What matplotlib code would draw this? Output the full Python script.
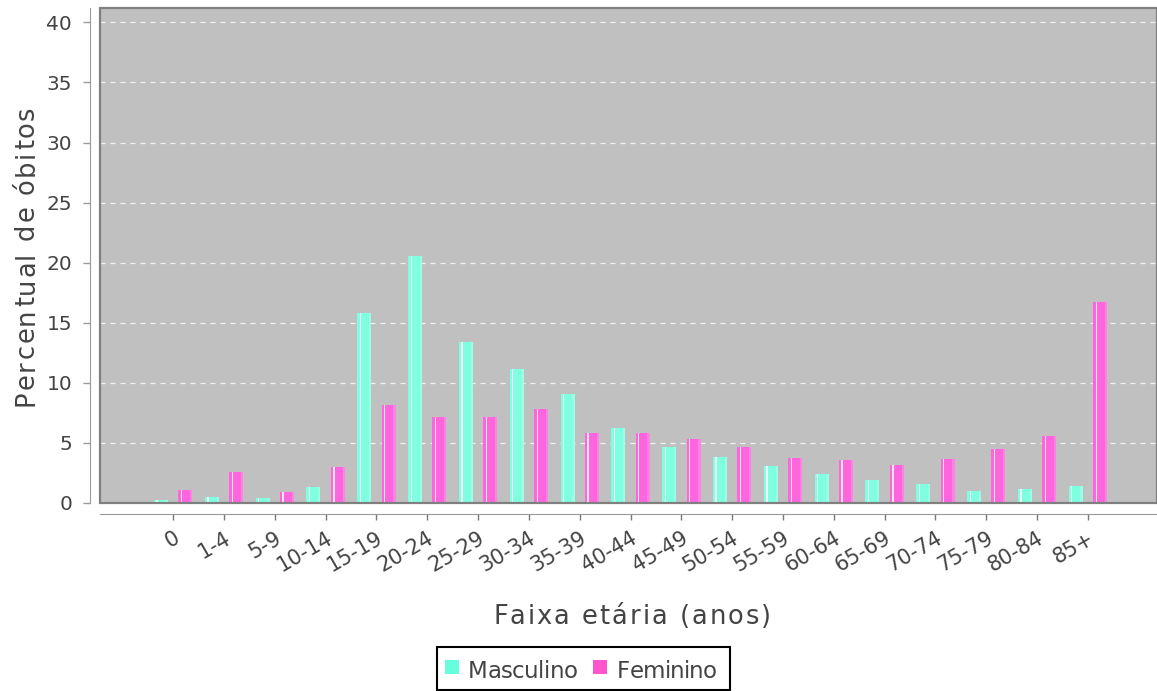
import matplotlib.pyplot as plt
import numpy as np
from matplotlib.patches import Rectangle
from matplotlib.font_manager import FontProperties

# age groups
faixas = ['0', '1-4', '5-9', '10-14', '15-19', '20-24', '25-29', '30-34', '35-39',
          '40-44', '45-49', '50-54', '55-59', '60-64', '65-69', '70-74', '75-79',
          '80-84', '85+']

# percent of deaths
masculino = [0.25, 0.47, 0.45, 1.36, 15.78, 20.55, 13.42, 11.15, 9.07, 6.24,
             4.69, 3.85, 3.11, 2.38, 1.94, 1.55, 1.03, 1.16, 1.41]
feminino = [1.08, 2.55, 0.94, 2.97, 8.18, 7.18, 7.18, 7.85, 5.85, 5.85,
            5.30, 4.69, 3.72, 3.55, 3.16, 3.66, 4.52, 5.55, 16.72]

cor_m = '#80FFE0'
cor_f = '#FF66DD'
txt = '#444444'
W, H = 1157, 691

fig = plt.figure(figsize=(W / 100, H / 100), dpi=100)
ax = fig.add_axes([100 / W, 188 / H, 1057 / W, 495 / H])
ax.set_facecolor('#C0C0C0')

x = np.arange(len(faixas))
w = 0.275
off = 0.24


def barras(pos, vals, cor):
    ax.bar(pos, vals, width=w, color=cor, zorder=3)
    # highlight stripe like the gradient painter
    ax.bar(pos - w * 0.28, vals, width=w * 0.09, color='white', alpha=0.85, zorder=4)
    ax.bar(pos + w * 0.42, vals, width=w * 0.16, color='white', alpha=0.18, zorder=4)


barras(x - off, masculino, cor_m)
barras(x + off, feminino, cor_f)

ax.set_xlim(-1.44, 19.36)
ax.set_ylim(0, 41.2)
ax.set_yticks(range(0, 41, 5))
ax.yaxis.grid(True, color='white', linestyle=(0, (4, 4)), linewidth=0.9, alpha=0.8, zorder=1)
ax.set_axisbelow(True)

for s in ['top', 'right']:
    ax.spines[s].set_visible(False)
ax.spines['left'].set_position(('outward', 7))
ax.spines['bottom'].set_position(('outward', 8))
ax.spines['left'].set_color('#999999')
ax.spines['bottom'].set_color('#999999')

# plot border
ax.add_patch(Rectangle((0, 0), 1, 1, transform=ax.transAxes, fill=False,
                       edgecolor='#808080', linewidth=1.6, zorder=5, clip_on=False))

ax.set_xticks(x)
ax.set_xticklabels(faixas, rotation=30, ha='right', va='top', rotation_mode='anchor',
                   fontsize=15, color=txt)
ax.tick_params(axis='x', length=4, width=1, color='#777777', pad=6)
ax.tick_params(axis='y', length=5, width=1, color='#999999', labelsize=14.5,
               labelcolor=txt, pad=8)

# letter-spaced text (Java style rendering)
renderer = fig.canvas.get_renderer()


def spaced(s, x0, y0, size, largura, rotation=0, align='center', color=txt):
    fp = FontProperties(family='DejaVu Sans', size=size)
    base = renderer.get_text_width_height_descent('ll', fp, ismath=False)[0]
    adv = [renderer.get_text_width_height_descent('l' + c + 'l', fp, ismath=False)[0] - base
           for c in s]
    extra = (largura - sum(adv)) / max(len(s) - 1, 1)
    start = -largura / 2 if align == 'center' else 0
    a = np.deg2rad(rotation)
    pos = start
    for c, d in zip(s, adv):
        px = x0 + pos * np.cos(a)
        py = y0 + pos * np.sin(a)
        fig.text(px / W, py / H, c, rotation=rotation, rotation_mode='anchor',
                 ha='left', va='baseline', fontproperties=fp, color=color)
        pos += d + extra


spaced('Faixa etária (anos)', 632, H - 624, 18.5, 278)
spaced('Percentual de óbitos', 34, H - 256, 18.5, 300, rotation=90)

# legend box
fig.patches.append(Rectangle((437 / W, 1 / H), 293 / W, 43 / H, transform=fig.transFigure,
                             facecolor='white', edgecolor='black', linewidth=1.5))
fig.patches.append(Rectangle((445 / W, 17 / H), 14 / W, 14 / H, transform=fig.transFigure,
                             facecolor='#66FFDD', edgecolor='none'))
fig.patches.append(Rectangle((593 / W, 17 / H), 14 / W, 14 / H, transform=fig.transFigure,
                             facecolor='#FF55CC', edgecolor='none'))
spaced('Masculino', 468, H - 678, 16.5, 110, align='left')
spaced('Feminino', 617, H - 678, 16.5, 100, align='left')

fig.savefig('out.png', dpi=100)
